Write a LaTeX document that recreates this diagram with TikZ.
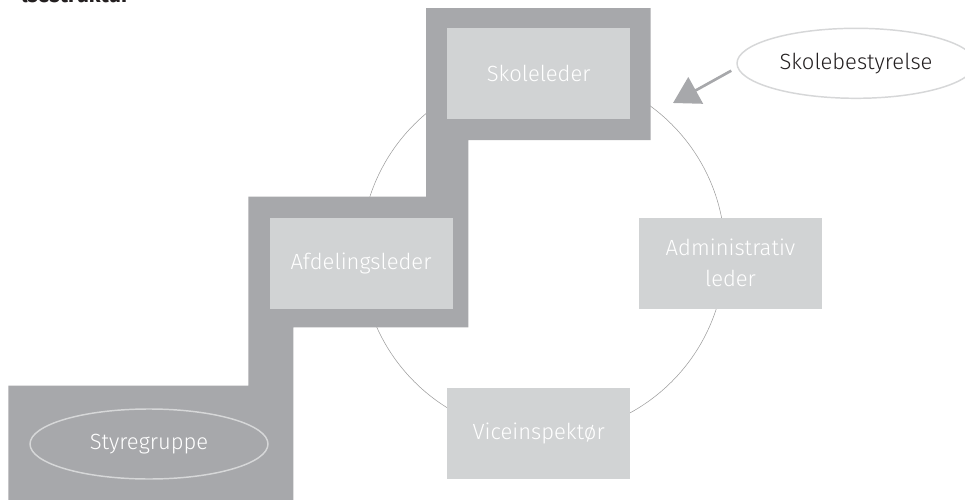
\documentclass[tikz,border=0pt]{standalone}
\usepackage{fontspec}
\setmainfont{Fira Sans}[UprightFont={* Light}, BoldFont={* Bold}]
\usetikzlibrary{arrows.meta, shapes.geometric}

\definecolor{stepgray}{HTML}{A7A8AB}
\definecolor{boxgray}{HTML}{D1D3D4}
\definecolor{ringgray}{HTML}{9C9C9C}
\definecolor{ovalgray}{HTML}{D6D7D8}
\definecolor{inkblack}{HTML}{231F20}

\begin{document}
\begin{tikzpicture}[x=0.75pt, y=-0.75pt, >={Triangle[length=19.5pt, width=22.5pt]},
    box/.style={fill=boxgray, text=white, minimum width=137.25pt, minimum height=68.25pt,
        inner sep=0pt, align=center, font=\fontsize{16.5}{23.7}\selectfont},
    oval/.style={ellipse, draw=ovalgray, line width=1.1pt, minimum width=178.5pt,
        minimum height=52.5pt, inner sep=0pt, font=\fontsize{16.5}{19}\selectfont},
    ring/.style={circle, draw=ringgray, line width=0.4pt, minimum size=273pt, inner sep=0pt}]

    \useasboundingbox (0,0) rectangle (965,500);

    %define the ring behind the boxes
    \node[ring] (ring) at (543,253) {};

    %define the staircase
    \fill[stepgray] (8.3,500) -- (8.3,385.7) -- (248.3,385.7) -- (248.3,196.7)
        -- (426,196.7) -- (426,8) -- (650.7,8) -- (650.7,140) -- (468.3,140)
        -- (468.3,327.3) -- (293.3,327.3) -- (293.3,500) -- cycle;

    %define the boxes
    \node[box] (sl) at (538.7,73.7)  {Skoleleder};
    \node[box] (al) at (361,263)     {Afdelingsleder};
    \node[box] (ad) at (730.5,263)   {Administrativ\\leder};
    \node[box] (vi) at (538.7,433.8) {Viceinspektør};

    %define the ovals
    \node[oval, text=white] (sg) at (149,444) {Styregruppe};
    \node[oval, fill=white, text=inkblack] (sb) at (856,63.3) {Skolebestyrelse};

    %define the arrow
    \coordinate (tip) at (673,103);
    \draw[->, stepgray, line width=2pt, shorten <=5pt] (sb.182) -- (tip);

    %title, cut off at the top
    \node[anchor=south east, inner sep=0pt, text=inkblack, font=\fontsize{16}{19}\selectfont\bfseries] (title) at (130,3.5) {lsestruktur};
\end{tikzpicture}
\end{document}
